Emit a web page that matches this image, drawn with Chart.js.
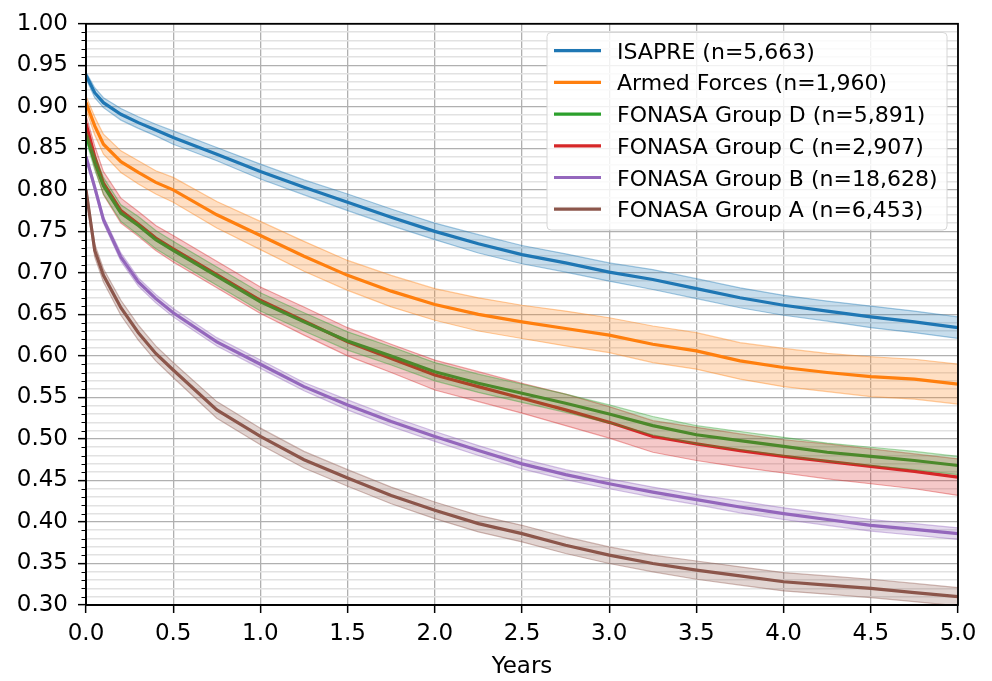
<!DOCTYPE html>
<html>
<head>
<meta charset="utf-8">
<script src="https://cdn.jsdelivr.net/npm/chart.js@4.4.0/dist/chart.umd.min.js"></script>
<style>
  html, body { margin: 0; padding: 0; background: #fff; }
  #wrap { width: 992px; height: 681px; }
</style>
</head>
<body>
<div id="wrap"><canvas id="kmChart" width="992" height="681"></canvas></div>
<script>
/* Kaplan-Meier curves by insurance group */
const years = [0, 0.05, 0.1, 0.2, 0.3, 0.4, 0.5, 0.75, 1.0, 1.25, 1.5, 1.75, 2.0, 2.25, 2.5, 2.75, 3.0, 3.25, 3.5, 3.75, 4.0, 4.25, 4.5, 4.75, 5.0];

const groupNames = ['ISAPRE (n=5,663)', 'Armed Forces (n=1,960)', 'FONASA Group D (n=5,891)',
  'FONASA Group C (n=2,907)', 'FONASA Group B (n=18,628)', 'FONASA Group A (n=6,453)'];

const isapre  = [0.938, 0.917, 0.905, 0.891, 0.881, 0.872, 0.863, 0.843, 0.822, 0.803, 0.785, 0.767, 0.750, 0.735, 0.722, 0.712, 0.701, 0.692, 0.681, 0.670, 0.661, 0.654, 0.647, 0.641, 0.634];
const armed   = [0.905, 0.877, 0.855, 0.834, 0.821, 0.809, 0.800, 0.770, 0.745, 0.720, 0.697, 0.678, 0.662, 0.650, 0.641, 0.633, 0.625, 0.614, 0.606, 0.594, 0.586, 0.580, 0.575, 0.572, 0.566];
const groupD  = [0.866, 0.833, 0.805, 0.772, 0.757, 0.740, 0.727, 0.696, 0.665, 0.641, 0.618, 0.600, 0.581, 0.567, 0.555, 0.543, 0.530, 0.516, 0.505, 0.498, 0.491, 0.484, 0.479, 0.474, 0.468];
const groupC  = [0.880, 0.840, 0.808, 0.775, 0.759, 0.742, 0.729, 0.698, 0.667, 0.642, 0.617, 0.597, 0.577, 0.563, 0.549, 0.535, 0.520, 0.503, 0.494, 0.486, 0.479, 0.473, 0.467, 0.461, 0.454];
const groupB  = [0.840, 0.803, 0.764, 0.719, 0.689, 0.669, 0.652, 0.617, 0.590, 0.563, 0.541, 0.521, 0.503, 0.486, 0.470, 0.457, 0.446, 0.436, 0.427, 0.418, 0.410, 0.403, 0.396, 0.391, 0.386];
const groupA  = [0.800, 0.727, 0.697, 0.658, 0.628, 0.603, 0.583, 0.535, 0.503, 0.475, 0.453, 0.432, 0.414, 0.398, 0.386, 0.372, 0.360, 0.350, 0.342, 0.335, 0.328, 0.324, 0.320, 0.315, 0.310];

// half width of the 95% band
const isapreCi = [0.004, 0.006, 0.006, 0.007, 0.007, 0.007, 0.008, 0.008, 0.009, 0.009, 0.010, 0.010, 0.010, 0.011, 0.011, 0.011, 0.011, 0.012, 0.012, 0.012, 0.012, 0.012, 0.013, 0.013, 0.013];
const armedCi  = [0.008, 0.011, 0.012, 0.013, 0.014, 0.014, 0.015, 0.016, 0.017, 0.018, 0.018, 0.019, 0.019, 0.020, 0.020, 0.021, 0.021, 0.022, 0.022, 0.022, 0.023, 0.023, 0.024, 0.024, 0.024];
const groupDCi = [0.006, 0.009, 0.010, 0.010, 0.011, 0.011, 0.011, 0.011, 0.011, 0.011, 0.011, 0.011, 0.011, 0.011, 0.011, 0.011, 0.011, 0.011, 0.011, 0.011, 0.011, 0.011, 0.011, 0.011, 0.011];
const groupCCi = [0.010, 0.013, 0.014, 0.015, 0.015, 0.015, 0.016, 0.016, 0.016, 0.017, 0.017, 0.017, 0.018, 0.018, 0.018, 0.019, 0.019, 0.019, 0.020, 0.020, 0.020, 0.021, 0.021, 0.021, 0.022];
const groupBCi = [0.003, 0.004, 0.004, 0.005, 0.005, 0.005, 0.005, 0.005, 0.005, 0.005, 0.006, 0.006, 0.006, 0.006, 0.006, 0.006, 0.006, 0.006, 0.006, 0.007, 0.007, 0.007, 0.007, 0.007, 0.007];
const groupACi = [0.006, 0.008, 0.008, 0.009, 0.009, 0.009, 0.009, 0.010, 0.010, 0.010, 0.010, 0.010, 0.010, 0.010, 0.010, 0.010, 0.010, 0.010, 0.011, 0.011, 0.011, 0.011, 0.011, 0.011, 0.011];

const yTicks = [0.30, 0.35, 0.40, 0.45, 0.50, 0.55, 0.60, 0.65, 0.70, 0.75, 0.80, 0.85, 0.90, 0.95, 1.00];
const xTicks = [0, 0.5, 1.0, 1.5, 2.0, 2.5, 3.0, 3.5, 4.0, 4.5, 5.0];

const series = [isapre, armed, groupD, groupC, groupB, groupA];
const bands  = [isapreCi, armedCi, groupDCi, groupCCi, groupBCi, groupACi];
const colors = ['31,119,180', '255,127,14', '44,160,44', '214,39,40', '148,103,189', '140,86,75'];

const FONT = "'DejaVu Sans', sans-serif";

const toPts = (vals) => vals.map((v, i) => ({ x: years[i], y: v }));
const isMajor = (v) => Math.round(v * 100) % 5 === 0;

const datasets = [];
series.forEach((s, k) => {
  const c = colors[k];
  datasets.push({
    label: '_upper', data: toPts(s.map((v, i) => v + bands[k][i])),
    borderColor: `rgba(${c},0.4)`, borderWidth: 1.2, backgroundColor: `rgba(${c},0.25)`,
    fill: '+1', pointRadius: 0, tension: 0,
  });
  datasets.push({
    label: '_lower', data: toPts(s.map((v, i) => v - bands[k][i])),
    borderColor: `rgba(${c},0.4)`, borderWidth: 1.2, fill: false, pointRadius: 0, tension: 0,
  });
});
series.forEach((s, k) => {
  datasets.push({
    label: groupNames[k], data: toPts(s),
    borderColor: `rgb(${colors[k]})`, borderWidth: 3.2, fill: false, pointRadius: 0, tension: 0,
  });
});

// ── frame, minor ticks, in-plot legend ──────────────────────────
const framePlugin = {
  id: 'frame',
  afterDraw(chart) {
    const { ctx, chartArea: a } = chart;
    const yScale = chart.scales.y;
    ctx.save();
    ctx.strokeStyle = '#000';
    ctx.lineWidth = 1.8;
    ctx.strokeRect(a.left, a.top, a.right - a.left, a.bottom - a.top);

    // short minor ticks on the y axis
    ctx.lineWidth = 1.2;
    ctx.beginPath();
    for (let i = 31; i < 100; i++) {
      if (i % 5 === 0) continue;
      const yy = Math.round(yScale.getPixelForValue(i / 100)) + 0.5;
      ctx.moveTo(a.left - 4.5, yy);
      ctx.lineTo(a.left, yy);
    }
    ctx.stroke();

    // legend box
    const bx = 547, by = 32.5, bw = 400, bh = 197.5;
    ctx.fillStyle = 'rgba(255,255,255,0.82)';
    ctx.strokeStyle = '#d6d6d6';
    ctx.lineWidth = 1;
    ctx.beginPath();
    ctx.roundRect(bx, by, bw, bh, 4);
    ctx.fill();
    ctx.stroke();

    ctx.font = `22px ${FONT}`;
    ctx.textBaseline = 'alphabetic';
    groupNames.forEach((name, k) => {
      const yy = 50.7 + k * 31.7;
      ctx.strokeStyle = `rgb(${colors[k]})`;
      ctx.lineWidth = 3.2;
      ctx.beginPath();
      ctx.moveTo(554, yy);
      ctx.lineTo(601, yy);
      ctx.stroke();
      ctx.fillStyle = '#000';
      ctx.fillText(name, 617, yy + 8);
    });
    ctx.restore();
  },
};

new Chart(document.getElementById('kmChart'), {
  type: 'line',
  data: { datasets },
  plugins: [framePlugin],
  options: {
    responsive: false,
    animation: false,
    layout: { padding: { top: 20, right: 34, left: 0, bottom: 0 } },
    plugins: { legend: { display: false }, tooltip: { enabled: false } },
    scales: {
      x: {
        type: 'linear', min: 0, max: 5,
        afterBuildTicks: (scale) => { scale.ticks = xTicks.map(v => ({ value: v })); },
        afterFit: (scale) => { scale.height = 76; },
        grid: { color: '#b0b0b0', lineWidth: 1.3, tickLength: 8, tickColor: '#000', tickWidth: 1.5 },
        border: { color: '#000', width: 1.8 },
        ticks: { color: '#000', font: { family: FONT, size: 23 }, padding: 7, maxRotation: 0,
          callback: (v) => Number(v).toFixed(1) },
        title: { display: true, text: 'Years', color: '#000', font: { family: FONT, size: 23 }, padding: { top: 5, bottom: 0 } },
      },
      y: {
        type: 'linear', min: 0.30, max: 1.00,
        afterBuildTicks: (scale) => {
          const t = [];
          for (let i = 30; i <= 100; i++) t.push({ value: i / 100 });
          scale.ticks = t;
        },
        afterFit: (scale) => { scale.width = 86; },
        grid: {
          color: (c) => (isMajor(c.tick.value) ? '#b0b0b0' : '#e2e2e2'),
          lineWidth: (c) => (isMajor(c.tick.value) ? 1.3 : 1.6),
          tickLength: 8,
          tickColor: (c) => (isMajor(c.tick.value) ? '#000' : 'rgba(0,0,0,0)'),
          tickWidth: 1.5,
        },
        border: { color: '#000', width: 1.8 },
        ticks: {
          color: '#000', font: { family: FONT, size: 23 }, padding: 10, autoSkip: false,
          callback: (v) => (yTicks.some(t => Math.abs(t - v) < 1e-6) ? Number(v).toFixed(2) : ''),
        },
      },
    },
  },
});
</script>
</body>
</html>
